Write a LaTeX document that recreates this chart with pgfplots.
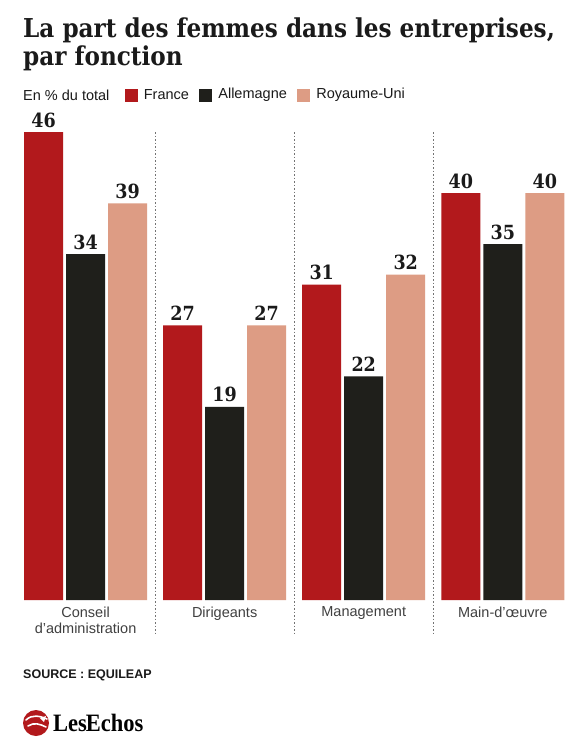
\documentclass[border=0pt]{standalone}
\usepackage{pgfplots}
\pgfplotsset{compat=1.18}
\usepackage{fontspec}
\setmainfont{Liberation Sans}
\newfontfamily\titlefont[FakeStretch=0.89]{DejaVu Serif}
\newfontfamily\numfont[FakeStretch=0.9]{DejaVu Serif}
\newfontfamily\logofont[FakeStretch=0.9]{Liberation Serif}
\definecolor{fr}{HTML}{B2191C}
\definecolor{de}{HTML}{1F1F1B}
\definecolor{uk}{HTML}{DD9C84}
\definecolor{txt}{HTML}{1A1A1A}
\begin{document}
\begin{tikzpicture}
\fill[white] (0,0) rectangle (578pt,-756pt);
% title
\node[anchor=north west, inner sep=0pt, align=left, text=txt,
  font=\titlefont\bfseries\fontsize{26}{28}\selectfont] at (23pt,-18pt)
  {La part des femmes dans les entreprises,\\par fonction};
% legend
\node[anchor=west, inner sep=0pt, text=txt, font=\fontsize{14.5}{16}\selectfont] (l0) at (23pt,-95pt) {En \% du total};
\fill[fr] ([xshift=15pt]l0.east) ++(0,-6.5pt) rectangle ++(13pt,13pt) coordinate (s1);
\node[anchor=west, inner sep=0pt, text=txt, font=\fontsize{14.5}{16}\selectfont] (l1) at ([xshift=6pt,yshift=-6.5pt]s1) {France};
\fill[de] ([xshift=10pt]l1.east) ++(0,-6.5pt) rectangle ++(13pt,13pt) coordinate (s2);
\node[anchor=west, inner sep=0pt, text=txt, font=\fontsize{14.5}{16}\selectfont] (l2) at ([xshift=6pt,yshift=-6.5pt]s2) {Allemagne};
\fill[uk] ([xshift=10pt]l2.east) ++(0,-6.5pt) rectangle ++(13pt,13pt) coordinate (s3);
\node[anchor=west, inner sep=0pt, text=txt, font=\fontsize{14.5}{16}\selectfont] (l3) at ([xshift=6pt,yshift=-6.5pt]s3) {Royaume-Uni};
\begin{axis}[
  at={(22pt,-600pt)}, anchor=south west,
  scale only axis, width=542pt, height=508.5pt,
  xmin=-0.457, xmax=3.44, ymin=0, ymax=50,
  axis line style={draw=none},
  major tick length=0pt,
  ytick=\empty,
  xtick={0,1,2,3},
  xticklabels={Conseil\\d'administration, Dirigeants, Management, Main-d'{\oe}uvre},
  xticklabel style={font=\fontsize{14.5}{16}\selectfont, text=black!75, align=center, yshift=-3pt},
  ybar=3pt, bar width=39pt,
  clip=false,
  /pgf/number format/assume math mode=true,
  nodes near coords,
  nodes near coords style={font=\numfont\bfseries\fontsize{19.5}{20}\selectfont, text=txt, yshift=1pt},
]
\addplot[fill=fr, draw=none] coordinates {(0,46) (1,27) (2,31) (3,40)};
\addplot[fill=de, draw=none] coordinates {(0,34) (1,19) (2,22) (3,35)};
\addplot[fill=uk, draw=none] coordinates {(0,39) (1,27) (2,32) (3,40)};
\draw[black!55, dash pattern=on 1.5pt off 2pt, line width=0.7pt] (axis cs:0.5,46) -- (axis cs:0.5,-3.4);
\draw[black!55, dash pattern=on 1.5pt off 2pt, line width=0.7pt] (axis cs:1.5,46) -- (axis cs:1.5,-3.4);
\draw[black!55, dash pattern=on 1.5pt off 2pt, line width=0.7pt] (axis cs:2.5,46) -- (axis cs:2.5,-3.4);
\end{axis}
% source
\node[anchor=west, inner sep=0pt, text=txt, font=\bfseries\fontsize{12.5}{14}\selectfont] at (23pt,-675pt) {SOURCE : EQUILEAP};
% logo
\fill[fr] (36pt,-723pt) circle (13pt);
\draw[white, line width=1.6pt, line cap=round] (26pt,-720pt) .. controls (32pt,-714pt) and (40pt,-716pt) .. (47pt,-719pt);
\draw[white, line width=1.6pt, line cap=round] (28pt,-726pt) .. controls (34pt,-722pt) and (40pt,-724pt) .. (46pt,-727pt);
\fill[white] (40pt,-718pt) -- (46pt,-716pt) -- (44pt,-722pt) -- cycle;
\node[anchor=west, inner sep=0pt, text=black, font=\logofont\bfseries\fontsize{25}{26}\selectfont] at (53pt,-723pt) {Les\kern-1pt Echos};
\end{tikzpicture}
\end{document}
